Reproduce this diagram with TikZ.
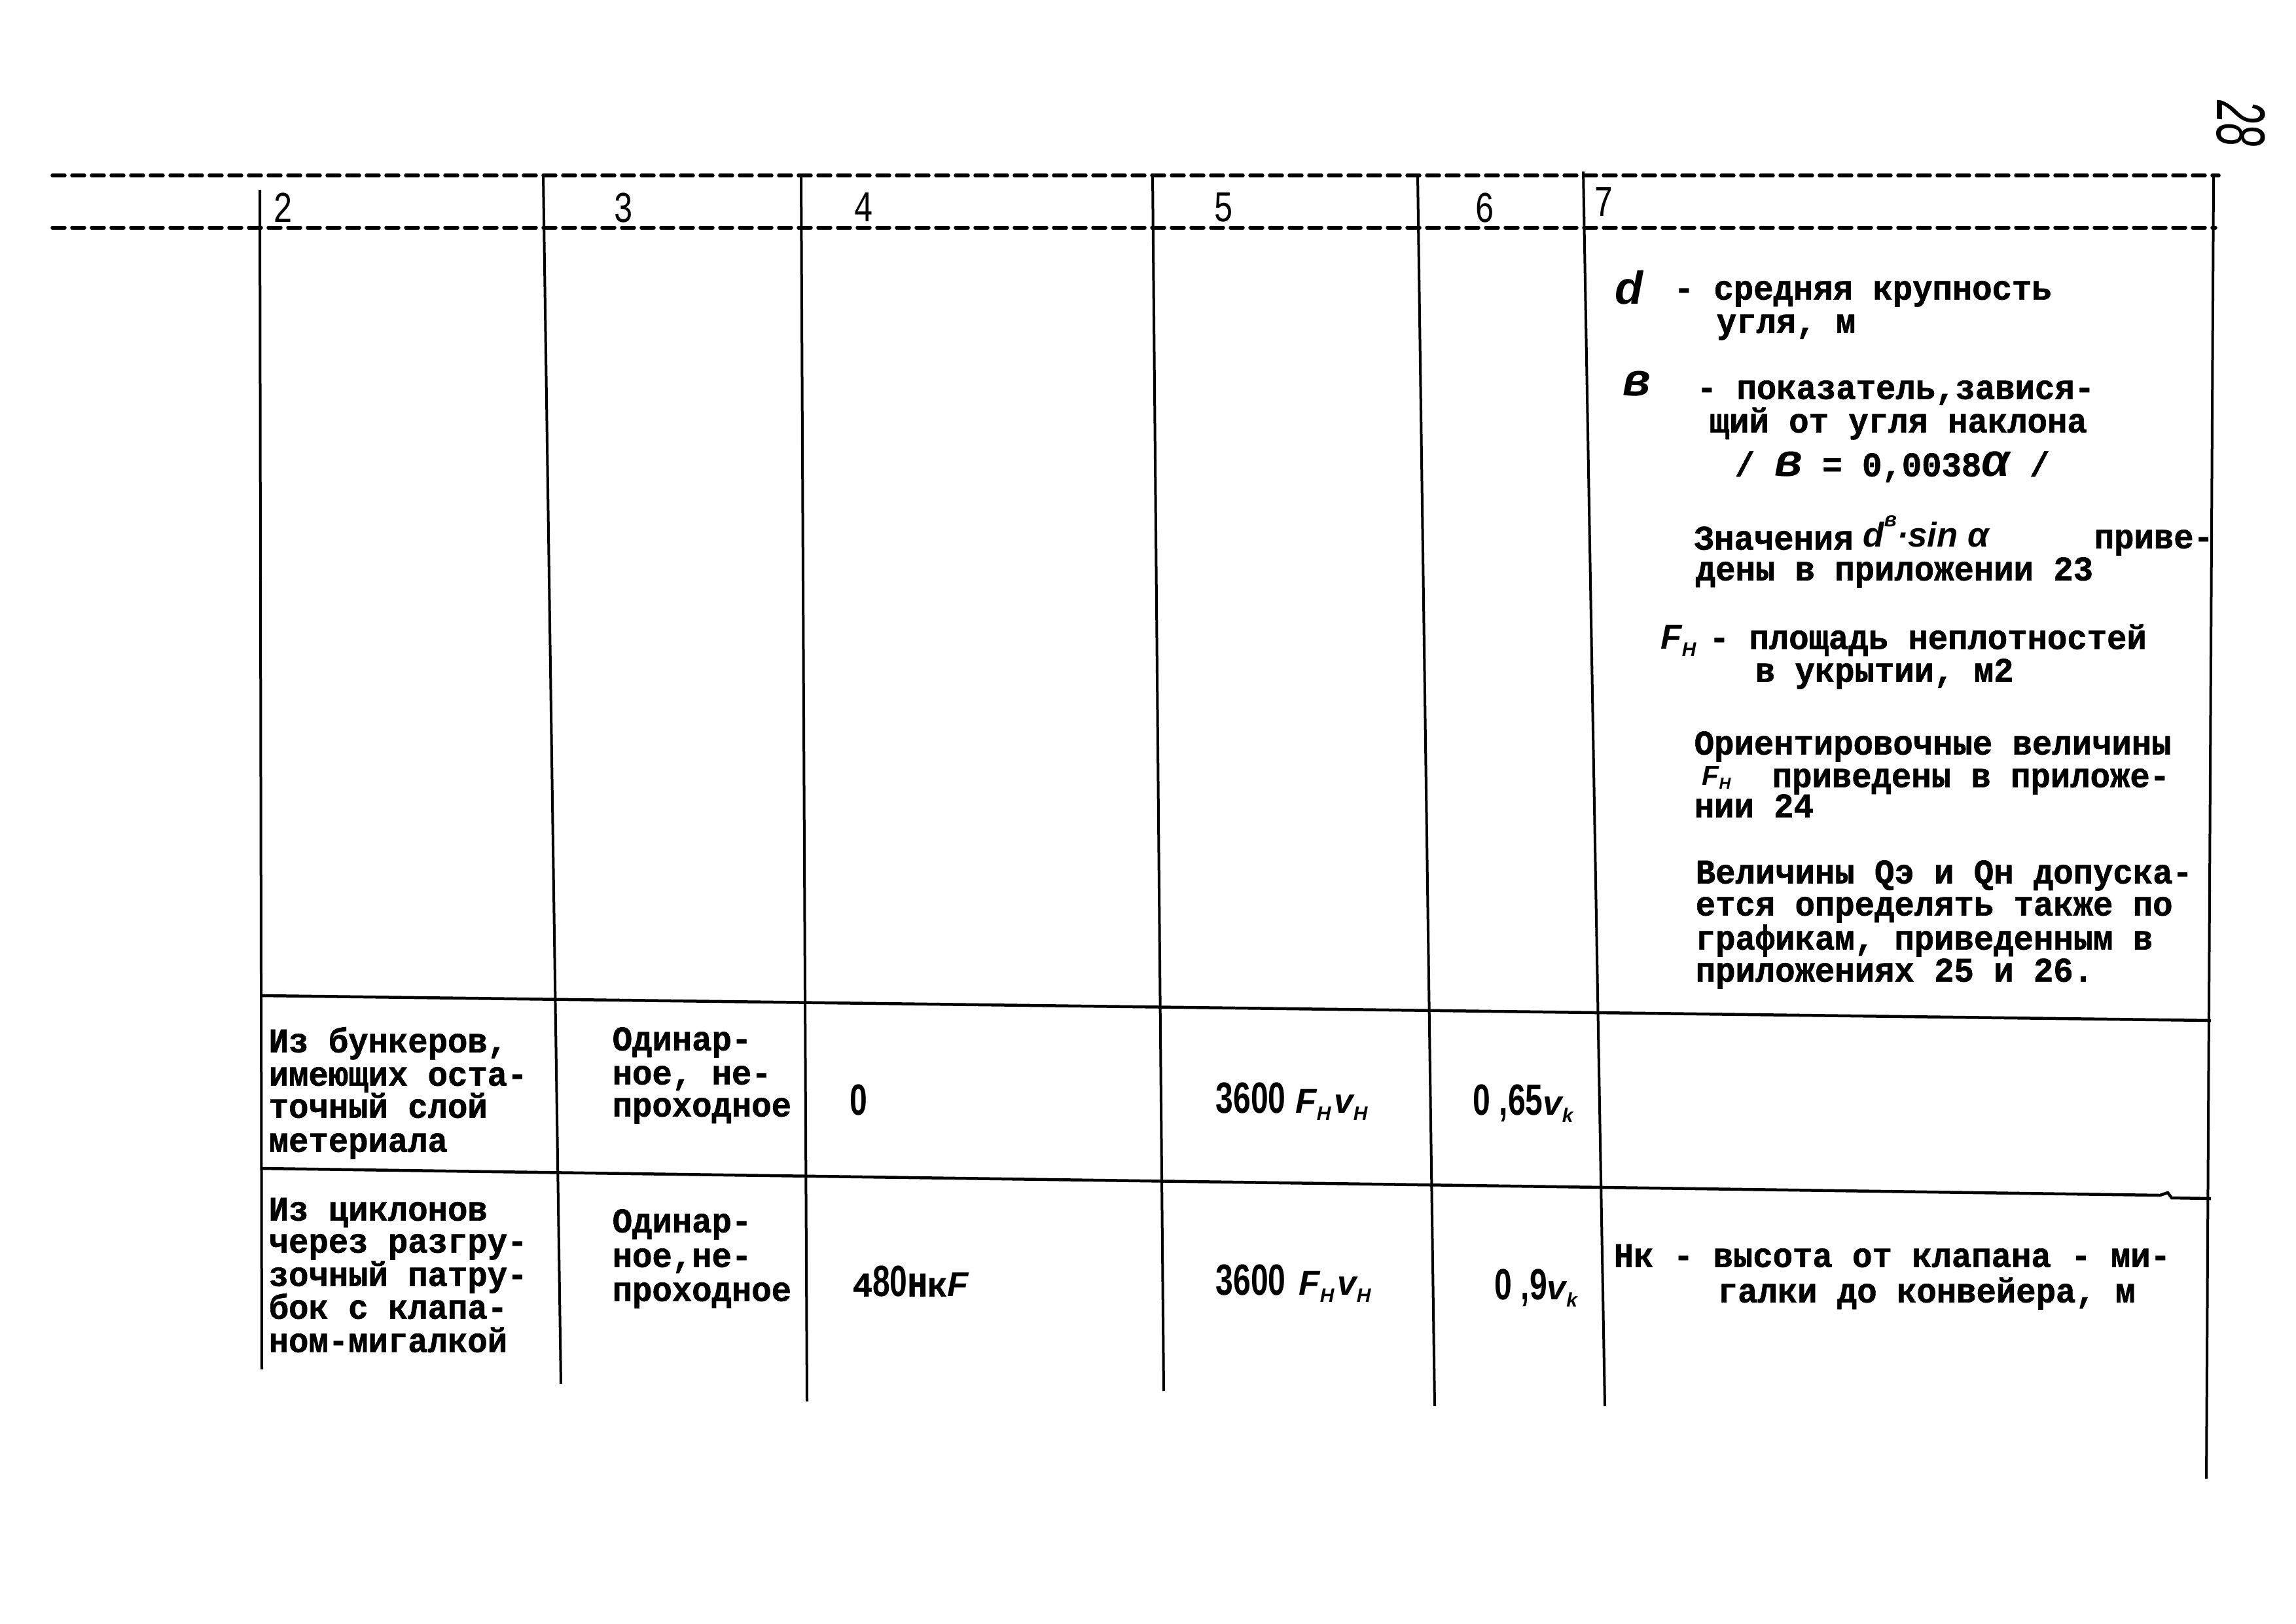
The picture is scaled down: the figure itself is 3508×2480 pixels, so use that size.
\documentclass[tikz,border=0pt]{standalone}
\usepackage{graphicx}
\usepackage{fontspec}
\newfontfamily\twfam{Liberation Mono}[FakeStretch=0.96, BoldFeatures={FakeBold=1.2}]
\newfontfamily\handfam{Liberation Sans}
\newfontfamily\narrowfam{Liberation Sans}
\newfontfamily\thinfam{Liberation Mono}
\newcommand\twf{\twfam\bfseries\fontsize{15pt}{14.5pt}\selectfont}
\newcommand\hw[1]{{\handfam\itshape #1}}
\newcommand\hsm[1]{{\handfam\itshape\fontsize{12pt}{12pt}\selectfont #1}}
\newcommand\hbig[1]{{\handfam\itshape\fontsize{20pt}{20pt}\selectfont #1}}
\newcommand\hmid[1]{{\handfam\itshape\fontsize{15pt}{15pt}\selectfont #1}}
\newcommand\hsub[1]{\raisebox{-0.4ex}{\handfam\itshape\fontsize{8.5pt}{8.5pt}\selectfont #1}}
\newcommand\hsubs[1]{\raisebox{-0.2ex}{\handfam\itshape\fontsize{7pt}{7pt}\selectfont #1}}
\newcommand\hsup[1]{\raisebox{1.1ex}{\handfam\itshape\fontsize{9pt}{9pt}\selectfont #1}}
\newcommand\nar[1]{\scalebox{0.72}[1]{\narrowfam\fontsize{19pt}{19pt}\selectfont #1}}
\newcommand\hdig[1]{\scalebox{0.75}[1]{\thinfam\fontsize{19pt}{19pt}\selectfont #1}}
\begin{document}
\begin{tikzpicture}[x=0.1mm,y=-0.1mm,
  tw/.style={font=\twf, anchor=mid west, inner sep=0pt},
  hd/.style={anchor=center, inner sep=0pt},
  typed/.style={line width=0.55mm, line cap=round, dash pattern=on 1.9mm off 1.1mm},
  rule/.style={line width=0.4mm},
  rowrule/.style={line width=0.45mm}]
\useasboundingbox (0,0) rectangle (3508,2480);
\fill[white] (0,0) rectangle (3508,2480);

% page number
\node[hd, rotate=-90] (pg) at (3424,189) {\scalebox{0.6}[1]{\handfam\itshape\fontsize{30pt}{30pt}\selectfont 28}};

% typed header rules
\draw[typed] (80,268) -- (3390,268);
\draw[typed] (80,348) -- (3385,348);

% column rules
\draw[rule] (397,290) -- (400,2092);
\draw[rule] (830,268) -- (857,2114);
\draw[rule] (1224,268) -- (1233,2141);
\draw[rule] (1761,268) -- (1778,2125);
\draw[rule] (2166,268) -- (2192,2148);
\draw[rule] (2419,262) -- (2452,2148);
\draw[rule] (3382,268) -- (3371,2259);

% row rules
\draw[rowrule] (400,1521) -- (3378,1559);
\draw[rowrule] (400,1785) -- (3300,1826) -- (3312,1822) -- (3318,1830) -- (3378,1831);

% header numbers
\node[hd] (h2) at (433,317) {\hdig{2}};
\node[hd] (h3) at (953,317) {\hdig{3}};
\node[hd] (h4) at (1320,317) {\hdig{4}};
\node[hd] (h5) at (1869,317) {\hdig{5}};
\node[hd] (h6) at (2268,317) {\hdig{6}};
\node[hd] (h7) at (2450,309) {\hdig{7}};

% column 7, upper part
\node[tw] (c7d) at (2467,457) {\hbig{d}};
\node[tw] (c7a) at (2557,450) {- средняя крупность};
\node[tw] (c7b) at (2622,501) {угля, м};
\node[tw] (c7e) at (2479,597) {\hbig{в}};
\node[tw] (c7f) at (2592,602) {- показатель,завися-};
\node[tw] (c7g) at (2611,653) {щий от угля наклона};
\node[tw] (c7h) at (2650,720) {/ \hbig{в} = 0,0038\hbig{α} /};
\node[tw] (c7i) at (2588,832) {Значения};
\node[tw] (c7j) at (2846,828) {\hmid{d}\hsup{в}\hmid{·sin α}};
\node[tw] (c7k) at (3199,830) {приве-};
\node[tw] (c7l) at (2590,879) {дены в приложении 23};
\node[tw] (c7m) at (2537,984) {\hw{F}\hsub{H}};
\node[tw] (c7n) at (2611,984) {- площадь неплотностей};
\node[tw] (c7o) at (2681,1034) {в укрытии, м2};
\node[tw] (c7p) at (2588,1145) {Ориентировочные величины};
\node[tw] (c7q) at (2600,1192) {\hsm{F}\hsubs{H}};
\node[tw] (c7r) at (2707,1195) {приведены в приложе-};
\node[tw] (c7s) at (2588,1241) {нии 24};
\node[tw] (c7t) at (2590,1342) {Величины Qэ и Qн допуска-};
\node[tw] (c7u) at (2590,1391) {ется определять также по};
\node[tw] (c7v) at (2590,1443) {графикам, приведенным в};
\node[tw] (c7w) at (2590,1492) {приложениях 25 и 26.};

% row 1
\node[tw] (r1a) at (410,1600) {Из бункеров,};
\node[tw] (r1b) at (410,1651) {имеющих оста-};
\node[tw] (r1c) at (410,1700) {точный слой};
\node[tw] (r1d) at (410,1752) {метериала};
\node[tw] (r1e) at (935,1597) {Одинар-};
\node[tw] (r1f) at (935,1649) {ное, не-};
\node[tw] (r1g) at (935,1698) {проходное};
\node[tw] (r1h) at (1298,1696) {\nar{0}};
\node[tw] (r1i) at (1857,1693) {\nar{3600}\hspace{1.5mm}\hw{F}\hsub{H}\hspace{0.5mm}\hw{v}\hsub{H}};
\node[tw] (r1j) at (2250,1696) {\nar{0 ,65}\hw{v}\hsub{k}};

% row 2
\node[tw] (r2a) at (410,1857) {Из циклонов};
\node[tw] (r2b) at (410,1906) {через разгру-};
\node[tw] (r2c) at (410,1957) {зочный патру-};
\node[tw] (r2d) at (410,2007) {бок с клапа-};
\node[tw] (r2e) at (410,2058) {ном-мигалкой};
\node[tw] (r2f) at (935,1875) {Одинар-};
\node[tw] (r2g) at (935,1928) {ное,не-};
\node[tw] (r2h) at (935,1980) {проходное};
\node[tw] (r2i) at (1302,1973) {4\nar{80}Нк\hw{F}};
\node[tw] (r2j) at (1857,1971) {\nar{3600}\hspace{2mm}\hw{F}\hsub{H}\hspace{0.5mm}\hw{v}\hsub{H}};
\node[tw] (r2k) at (2283,1978) {\nar{0 ,9}\hw{v}\hsub{k}};
\node[tw] (r2l) at (2465,1928) {Нк - высота от клапана - ми-};
\node[tw] (r2m) at (2624,1982) {галки до конвейера, м};
\end{tikzpicture}
\end{document}
